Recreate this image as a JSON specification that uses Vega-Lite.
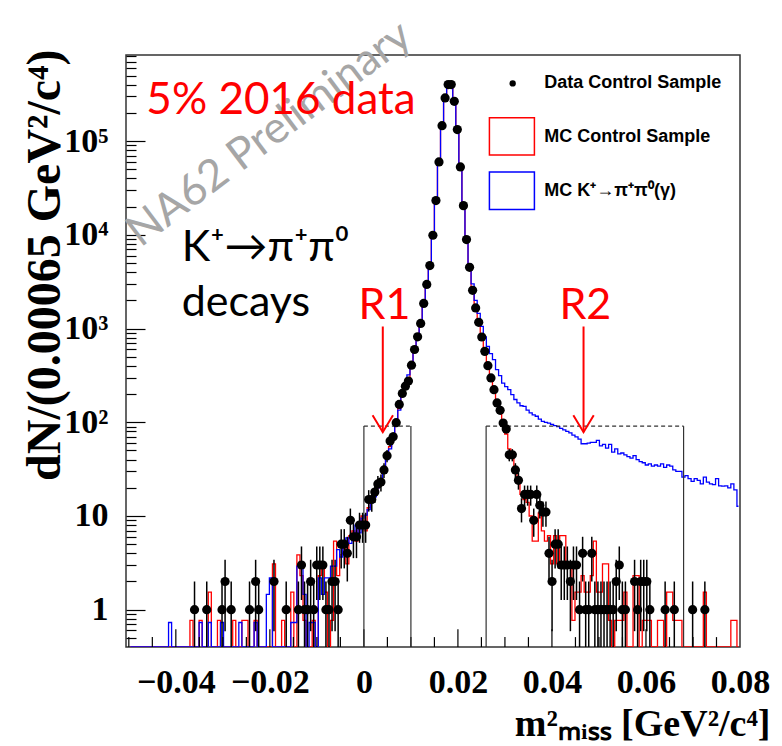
{
"$schema":"https://vega.github.io/schema/vega-lite/v6.json",
"width":614,"height":592,
"autosize":"none",
"padding":{"left":126,"top":55,"right":42,"bottom":99},
"background":"white",
"config":{"view":{"stroke":"#333","strokeWidth":1.5,"fill":"white"},"font":"Liberation Serif"},
"datasets":{
"mc":[
{"m":-0.049675,"r":0,"b":0},{"m":-0.049025,"r":0,"b":0},{"m":-0.048375,"r":0,"b":0},{"m":-0.047725,"r":0,"b":0},{"m":-0.047075,"r":0,"b":0},{"m":-0.046425,"r":0,"b":0},{"m":-0.045775,"r":0,"b":0},{"m":-0.045125,"r":0,"b":0},{"m":-0.044475,"r":0,"b":0},{"m":-0.043825,"r":0,"b":0},
{"m":-0.043175,"r":0,"b":0},{"m":-0.042525,"r":0,"b":0},{"m":-0.041875,"r":0,"b":0},{"m":-0.041225,"r":0,"b":0.73},{"m":-0.040575,"r":0,"b":0},{"m":-0.039925,"r":0,"b":0},{"m":-0.039275,"r":0,"b":0},{"m":-0.038625,"r":0,"b":0},{"m":-0.037975,"r":0,"b":0},{"m":-0.037325,"r":0,"b":0},
{"m":-0.036675,"r":0.77,"b":0},{"m":-0.036025,"r":0,"b":0},{"m":-0.035375,"r":0,"b":0},{"m":-0.034725,"r":0.77,"b":0.73},{"m":-0.034075,"r":0,"b":0},{"m":-0.033425,"r":0,"b":0},{"m":-0.032775,"r":1.54,"b":0.73},{"m":-0.032125,"r":0,"b":0},{"m":-0.031475,"r":0,"b":0},{"m":-0.030825,"r":0.77,"b":0},
{"m":-0.030175,"r":0,"b":0.73},{"m":-0.029525,"r":0,"b":0},{"m":-0.028875,"r":0,"b":0},{"m":-0.028225,"r":0,"b":0},{"m":-0.027575,"r":0.77,"b":0},{"m":-0.026925,"r":0,"b":0},{"m":-0.026275,"r":0,"b":0.73},{"m":-0.025625,"r":0.77,"b":0},{"m":-0.024975,"r":0.77,"b":0},{"m":-0.024325,"r":0,"b":0},
{"m":-0.023675,"r":0,"b":0},{"m":-0.023025,"r":0.77,"b":0.73},{"m":-0.022375,"r":0,"b":0},{"m":-0.021725,"r":0,"b":0},{"m":-0.021075,"r":0,"b":0},{"m":-0.020425,"r":0,"b":1.46},{"m":-0.019775,"r":0,"b":2.19},{"m":-0.019125,"r":3.08,"b":0},{"m":-0.018475,"r":0,"b":0},{"m":-0.017825,"r":0,"b":0},
{"m":-0.017175,"r":0.77,"b":0},{"m":-0.016525,"r":0,"b":0},{"m":-0.015875,"r":0,"b":0},{"m":-0.015225,"r":1.54,"b":0.73},{"m":-0.014575,"r":0,"b":0.73},{"m":-0.013925,"r":3.85,"b":2.92},{"m":-0.013275,"r":2.31,"b":2.92},{"m":-0.012625,"r":0.77,"b":1.46},{"m":-0.011975,"r":0,"b":0},{"m":-0.011325,"r":0,"b":0.73},
{"m":-0.010675,"r":0.77,"b":0.73},{"m":-0.010025,"r":0,"b":0},{"m":-0.009375,"r":2.31,"b":2.19},{"m":-0.008725,"r":3.08,"b":1.46},{"m":-0.008075,"r":1.54,"b":2.19},{"m":-0.007425,"r":0,"b":2.19},{"m":-0.006775,"r":0.77,"b":2.92},{"m":-0.006125,"r":5.39,"b":2.92},{"m":-0.005475,"r":2.31,"b":4.38},{"m":-0.004825,"r":3.85,"b":3.65},
{"m":-0.004175,"r":4.62,"b":5.11},{"m":-0.003525,"r":3.08,"b":5.84},{"m":-0.002875,"r":6.16,"b":5.11},{"m":-0.002225,"r":6.93,"b":5.84},{"m":-0.001575,"r":5.39,"b":8},{"m":-0.000925,"r":7.7,"b":6.6},{"m":-0.000275,"r":10,"b":9.5},{"m":0.000375,"r":6.93,"b":10.2},{"m":0.001025,"r":12.3,"b":11.7},{"m":0.001675,"r":14.6,"b":13.9},
{"m":0.002325,"r":17.7,"b":16},{"m":0.002975,"r":20,"b":20},{"m":0.003625,"r":25,"b":24},{"m":0.004275,"r":30,"b":30},{"m":0.004925,"r":42,"b":40},{"m":0.005575,"r":55,"b":52},{"m":0.006225,"r":72,"b":70},{"m":0.006875,"r":100,"b":95},{"m":0.007525,"r":140,"b":135},{"m":0.008175,"r":195,"b":190},
{"m":0.008825,"r":245,"b":250},{"m":0.009475,"r":300,"b":320},{"m":0.010125,"r":405,"b":420},{"m":0.010775,"r":590,"b":600},{"m":0.011425,"r":830,"b":850},{"m":0.012075,"r":1180,"b":1200},{"m":0.012725,"r":1850,"b":1900},{"m":0.013375,"r":2950,"b":3000},{"m":0.014025,"r":4900,"b":4900},{"m":0.014675,"r":10200,"b":10000},
{"m":0.015325,"r":24000,"b":24000},{"m":0.015975,"r":61000,"b":61000},{"m":0.016625,"r":148000,"b":148000},{"m":0.017275,"r":292000,"b":292000},{"m":0.017925,"r":400000,"b":401000},{"m":0.018575,"r":398000,"b":400000},{"m":0.019225,"r":268000,"b":270000},{"m":0.019875,"r":135000,"b":136000},{"m":0.020525,"r":54000,"b":55000},{"m":0.021175,"r":21000,"b":21500},
{"m":0.021825,"r":9200,"b":9500},{"m":0.022475,"r":4600,"b":4900},{"m":0.023125,"r":2500,"b":3000},{"m":0.023775,"r":1600,"b":2000},{"m":0.024425,"r":1150,"b":1450},{"m":0.025075,"r":790,"b":1055},{"m":0.025725,"r":560,"b":813},{"m":0.026375,"r":400,"b":646},{"m":0.027025,"r":290,"b":540},{"m":0.027675,"r":215,"b":466},
{"m":0.028325,"r":160,"b":364},{"m":0.028975,"r":125,"b":314},{"m":0.029625,"r":95,"b":262},{"m":0.030275,"r":75,"b":240},{"m":0.030925,"r":52,"b":223},{"m":0.031575,"r":45,"b":197},{"m":0.032225,"r":33,"b":175},{"m":0.032875,"r":24,"b":161},{"m":0.033525,"r":17,"b":150},{"m":0.034175,"r":15,"b":148},
{"m":0.034825,"r":14,"b":135},{"m":0.035475,"r":10,"b":126},{"m":0.036125,"r":5.39,"b":120},{"m":0.036775,"r":5.39,"b":116},{"m":0.037425,"r":10.8,"b":108},{"m":0.038075,"r":6.93,"b":102},{"m":0.038725,"r":5.39,"b":100},{"m":0.039375,"r":6.16,"b":98},{"m":0.040025,"r":3.08,"b":95},{"m":0.040675,"r":6.16,"b":92},
{"m":0.041325,"r":3.08,"b":90},{"m":0.041975,"r":6.16,"b":86},{"m":0.042625,"r":6.16,"b":83},{"m":0.043275,"r":3.08,"b":80},{"m":0.043925,"r":3.08,"b":77},{"m":0.044575,"r":0.77,"b":73},{"m":0.045225,"r":1.54,"b":70},{"m":0.045875,"r":1.54,"b":66},{"m":0.046525,"r":2.31,"b":59},{"m":0.047175,"r":1.54,"b":59},
{"m":0.047825,"r":1.54,"b":60},{"m":0.048475,"r":2.31,"b":61},{"m":0.049125,"r":5.39,"b":61},{"m":0.049775,"r":1.54,"b":64},{"m":0.050425,"r":1.54,"b":56},{"m":0.051075,"r":3.08,"b":58},{"m":0.051725,"r":3.08,"b":53},{"m":0.052375,"r":0.77,"b":58},{"m":0.053025,"r":0,"b":48},{"m":0.053675,"r":0.77,"b":52},
{"m":0.054325,"r":0.77,"b":46},{"m":0.054975,"r":0.77,"b":47},{"m":0.055625,"r":1.54,"b":45},{"m":0.056275,"r":0,"b":43},{"m":0.056925,"r":0,"b":41.5},{"m":0.057575,"r":2.31,"b":44},{"m":0.058225,"r":2.31,"b":40},{"m":0.058875,"r":0,"b":38},{"m":0.059525,"r":0.77,"b":37},{"m":0.060175,"r":0.77,"b":35},
{"m":0.060825,"r":0.77,"b":36},{"m":0.061475,"r":0,"b":34},{"m":0.062125,"r":0,"b":35},{"m":0.062775,"r":0.77,"b":34},{"m":0.063425,"r":0.77,"b":36},{"m":0.064075,"r":0,"b":33},{"m":0.064725,"r":1.54,"b":35},{"m":0.065375,"r":1.54,"b":34},{"m":0.066025,"r":0.77,"b":31},{"m":0.066675,"r":0.77,"b":30},
{"m":0.067325,"r":0.77,"b":30},{"m":0.067975,"r":0,"b":26},{"m":0.068625,"r":0,"b":27},{"m":0.069275,"r":0,"b":25},{"m":0.069925,"r":0,"b":23.4},{"m":0.070575,"r":0,"b":25},{"m":0.071225,"r":0,"b":24},{"m":0.071875,"r":0,"b":22},{"m":0.072525,"r":1.54,"b":26},{"m":0.073175,"r":0,"b":23},
{"m":0.073825,"r":0,"b":22},{"m":0.074475,"r":0,"b":21.6},{"m":0.075125,"r":0,"b":25},{"m":0.075775,"r":0,"b":21},{"m":0.076425,"r":0,"b":20.8},{"m":0.077075,"r":0,"b":21},{"m":0.077725,"r":0,"b":20},{"m":0.078375,"r":0.77,"b":22},{"m":0.079025,"r":0.77,"b":19},{"m":0.079675,"r":0,"b":12.7}
],
"data":[
{"m":-0.036025,"n":1,"lo":0,"hi":2},{"m":-0.033425,"n":1,"lo":0,"hi":2},{"m":-0.030175,"n":1,"lo":0,"hi":2},{"m":-0.029525,"n":2,"lo":0.59,"hi":3.41},{"m":-0.028225,"n":1,"lo":0,"hi":2},{"m":-0.024325,"n":1,"lo":0,"hi":2},{"m":-0.023025,"n":2,"lo":0.59,"hi":3.41},{"m":-0.022375,"n":1,"lo":0,"hi":2},{"m":-0.019125,"n":2,"lo":0.59,"hi":3.41},{"m":-0.016525,"n":1,"lo":0,"hi":2},
{"m":-0.013925,"n":1,"lo":0,"hi":2},{"m":-0.013275,"n":3,"lo":1.27,"hi":4.73},{"m":-0.012625,"n":1,"lo":0,"hi":2},{"m":-0.011975,"n":1,"lo":0,"hi":2},{"m":-0.011325,"n":2,"lo":0.59,"hi":3.41},{"m":-0.010675,"n":1,"lo":0,"hi":2},{"m":-0.010025,"n":3,"lo":1.27,"hi":4.73},{"m":-0.009375,"n":3,"lo":1.27,"hi":4.73},{"m":-0.008725,"n":3,"lo":1.27,"hi":4.73},{"m":-0.008075,"n":1,"lo":0,"hi":2},
{"m":-0.007425,"n":1,"lo":0,"hi":2},{"m":-0.006775,"n":2,"lo":0.59,"hi":3.41},{"m":-0.006125,"n":2,"lo":0.59,"hi":3.41},{"m":-0.005475,"n":1,"lo":0,"hi":2},{"m":-0.004825,"n":5,"lo":2.76,"hi":7.24},{"m":-0.004175,"n":5,"lo":2.76,"hi":7.24},{"m":-0.003525,"n":4,"lo":2,"hi":6},{"m":-0.002875,"n":9,"lo":6,"hi":12},{"m":-0.002225,"n":6,"lo":3.55,"hi":8.45},{"m":-0.001575,"n":6,"lo":3.55,"hi":8.45},
{"m":-0.000925,"n":8,"lo":5.17,"hi":10.83},{"m":-0.000275,"n":8,"lo":5.17,"hi":10.83},{"m":0.000375,"n":8,"lo":5.17,"hi":10.83},{"m":0.001025,"n":15,"lo":11.13,"hi":18.87},{"m":0.001675,"n":15,"lo":11.13,"hi":18.87},{"m":0.002325,"n":18,"lo":13.76,"hi":22.24},{"m":0.002975,"n":22,"lo":17.31,"hi":26.69},{"m":0.003625,"n":23,"lo":18.2,"hi":27.8},{"m":0.004275,"n":31,"lo":25.43,"hi":36.57},{"m":0.004925,"n":44,"lo":37.37,"hi":50.63},
{"m":0.005575,"n":63,"lo":55.06,"hi":70.94},{"m":0.006225,"n":70,"lo":61.63,"hi":78.37},{"m":0.006875,"n":99,"lo":89.05,"hi":108.95},{"m":0.007525,"n":155},{"m":0.008175,"n":203},{"m":0.008825,"n":243},{"m":0.009475,"n":275},{"m":0.010125,"n":407},{"m":0.010775,"n":598},{"m":0.011425,"n":817},
{"m":0.012075,"n":1133},{"m":0.012725,"n":1853},{"m":0.013375,"n":2960},{"m":0.014025,"n":4700},{"m":0.014675,"n":9900},{"m":0.015325,"n":23200},{"m":0.015975,"n":60000},{"m":0.016625,"n":146000},{"m":0.017275,"n":289000},{"m":0.017925,"n":401000},
{"m":0.018575,"n":401000},{"m":0.019225,"n":266000},{"m":0.019875,"n":133000},{"m":0.020525,"n":53000},{"m":0.021175,"n":20500},{"m":0.021825,"n":8900},{"m":0.022475,"n":4500},{"m":0.023125,"n":2560},{"m":0.023775,"n":1660},{"m":0.024425,"n":1165},
{"m":0.025075,"n":813},{"m":0.025725,"n":571},{"m":0.026375,"n":402},{"m":0.027025,"n":297},{"m":0.027675,"n":223},{"m":0.028325,"n":161},{"m":0.028975,"n":134},{"m":0.029625,"n":98,"lo":88.1,"hi":107.9},{"m":0.030275,"n":85,"lo":75.78,"hi":94.22},{"m":0.030925,"n":45,"lo":38.29,"hi":51.71},
{"m":0.031575,"n":45,"lo":38.29,"hi":51.71},{"m":0.032225,"n":31,"lo":25.43,"hi":36.57},{"m":0.032875,"n":24,"lo":19.1,"hi":28.9},{"m":0.033525,"n":12,"lo":8.54,"hi":15.46},{"m":0.034175,"n":17,"lo":12.88,"hi":21.12},{"m":0.034825,"n":17,"lo":12.88,"hi":21.12},{"m":0.035475,"n":17,"lo":12.88,"hi":21.12},{"m":0.036125,"n":9,"lo":6,"hi":12},{"m":0.036775,"n":17,"lo":12.88,"hi":21.12},{"m":0.037425,"n":13,"lo":9.39,"hi":16.61},
{"m":0.038075,"n":11,"lo":7.68,"hi":14.32},{"m":0.038725,"n":11,"lo":7.68,"hi":14.32},{"m":0.039375,"n":4,"lo":2,"hi":6},{"m":0.040025,"n":2,"lo":0.59,"hi":3.41},{"m":0.040675,"n":5,"lo":2.76,"hi":7.24},{"m":0.041325,"n":5,"lo":2.76,"hi":7.24},{"m":0.041975,"n":3,"lo":1.27,"hi":4.73},{"m":0.042625,"n":3,"lo":1.27,"hi":4.73},{"m":0.043275,"n":3,"lo":1.27,"hi":4.73},{"m":0.043925,"n":2,"lo":0.59,"hi":3.41},
{"m":0.044575,"n":3,"lo":1.27,"hi":4.73},{"m":0.045225,"n":3,"lo":1.27,"hi":4.73},{"m":0.045875,"n":1,"lo":0,"hi":2},{"m":0.046525,"n":4,"lo":2,"hi":6},{"m":0.047175,"n":1,"lo":0,"hi":2},{"m":0.047825,"n":1,"lo":0,"hi":2},{"m":0.048475,"n":4,"lo":2,"hi":6},{"m":0.049125,"n":1,"lo":0,"hi":2},{"m":0.049775,"n":1,"lo":0,"hi":2},{"m":0.050425,"n":1,"lo":0,"hi":2},
{"m":0.051075,"n":1,"lo":0,"hi":2},{"m":0.051725,"n":1,"lo":0,"hi":2},{"m":0.052375,"n":1,"lo":0,"hi":2},{"m":0.053025,"n":1,"lo":0,"hi":2},{"m":0.053675,"n":2,"lo":0.59,"hi":3.41},{"m":0.054325,"n":3,"lo":1.27,"hi":4.73},{"m":0.054975,"n":1,"lo":0,"hi":2},{"m":0.055625,"n":1,"lo":0,"hi":2},{"m":0.057575,"n":2,"lo":0.59,"hi":3.41},{"m":0.058225,"n":1,"lo":0,"hi":2},
{"m":0.058875,"n":2,"lo":0.59,"hi":3.41},{"m":0.059525,"n":2,"lo":0.59,"hi":3.41},{"m":0.060175,"n":2,"lo":0.59,"hi":3.41},{"m":0.060825,"n":1,"lo":0,"hi":2},{"m":0.064075,"n":1,"lo":0,"hi":2},{"m":0.066025,"n":1,"lo":0,"hi":2},{"m":0.069925,"n":1,"lo":0,"hi":2},{"m":0.072525,"n":1,"lo":0,"hi":2}
],
"regions":[{"region":"R1","lo":0,"hi":0.01},{"region":"R2","lo":0.026,"hi":0.068}],
"xticks":[
{"v":-0.05,"kind":"minor"},{"v":-0.045,"kind":"minor"},{"v":-0.04,"kind":"major"},{"v":-0.035,"kind":"minor"},{"v":-0.03,"kind":"minor"},{"v":-0.025,"kind":"minor"},{"v":-0.02,"kind":"major"},{"v":-0.015,"kind":"minor"},{"v":-0.01,"kind":"minor"},{"v":-0.005,"kind":"minor"},
{"v":0,"kind":"major"},{"v":0.005,"kind":"minor"},{"v":0.01,"kind":"minor"},{"v":0.015,"kind":"minor"},{"v":0.02,"kind":"major"},{"v":0.025,"kind":"minor"},{"v":0.03,"kind":"minor"},{"v":0.035,"kind":"minor"},{"v":0.04,"kind":"major"},{"v":0.045,"kind":"minor"},
{"v":0.05,"kind":"minor"},{"v":0.055,"kind":"minor"},{"v":0.06,"kind":"major"},{"v":0.065,"kind":"minor"},{"v":0.07,"kind":"minor"},{"v":0.075,"kind":"minor"}
]
},
"layer":[
{"data":{"name":"mc"},
 "mark":{"type":"line","interpolate":"step","stroke":"#ff0000","strokeWidth":1.3,"invalid":"show","clip":true},
 "encoding":{
  "x":{"field":"m","type":"quantitative","scale":{"domain":[-0.0506,0.08],"nice":false,"zero":false},
   "axis":{"orient":"bottom","domain":false,"grid":false,"ticks":false,"tickSize":0,"labels":true,
    "values":[-0.04,-0.02,0,0.02,0.04,0.06,0.08],
    "labelExpr":"datum.value==0 ? '0' : format(datum.value,'.2f')",
    "labelFont":"Liberation Serif","labelFontWeight":"bold","labelFontSize":34,"labelColor":"#000","labelPadding":18,
    "labelFlush":false,"labelOverlap":false,"labelBound":false,
    "title":"m²ₘᵢₛₛ [GeV²/c⁴]","titleFont":"Liberation Serif","titleFontWeight":"bold","titleFontSize":38,"titleColor":"#000",
    "titleX":644,"titleY":88,"titleAlign":"right","titleBaseline":"alphabetic","titleAngle":0}},
  "y":{"field":"r","type":"quantitative","scale":{"type":"log","domain":[0.4,830000],"nice":false,"clamp":true},
   "axis":{"orient":"left","domain":false,"grid":false,
    "values":[0.5,0.6,0.7,0.8,0.9,1,2,3,4,5,6,7,8,9,10,20,30,40,50,60,70,80,90,100,200,300,400,500,600,700,800,900,1000,2000,3000,4000,5000,6000,7000,8000,9000,10000,20000,30000,40000,50000,60000,70000,80000,90000,100000,200000,300000,400000,500000,600000,700000,800000],
    "labelExpr":"datum.value==1?'1':datum.value==10?'10':datum.value==100?'10²':datum.value==1000?'10³':datum.value==10000?'10⁴':datum.value==100000?'10⁵':''",
    "tickSize":{"condition":{"test":"indexof([1,10,100,1000,10000,100000],datum.value)>=0","value":-19},"value":-10},
    "tickColor":"#000","tickWidth":1.2,
    "labelFont":"Liberation Serif","labelFontWeight":"bold","labelFontSize":34,"labelColor":"#000","labelPadding":37,
    "labelOverlap":false,"labelBound":false,"labelFlush":false,
    "title":"dN/(0.00065 GeV²/c⁴)","titleFont":"Liberation Serif","titleFontWeight":"bold","titleFontSize":48,"titleColor":"#000",
    "titleX":-81,"titleY":-6,"titleAlign":"right","titleBaseline":"middle","titleAngle":270}}
 }},
{"data":{"name":"mc"},
 "mark":{"type":"line","interpolate":"step","stroke":"#0000ff","strokeWidth":1.3,"invalid":"show","clip":true},
 "encoding":{"x":{"field":"m","type":"quantitative"},"y":{"field":"b","type":"quantitative"}}},
{"data":{"name":"xticks"},
 "transform":[{"filter":"datum.kind=='major'"}],
 "mark":{"type":"rule","stroke":"#000","strokeWidth":1.2},
 "encoding":{"x":{"field":"v","type":"quantitative"},"y":{"datum":0.4,"type":"quantitative"},"y2":{"datum":0.62}}},
{"data":{"name":"xticks"},
 "transform":[{"filter":"datum.kind=='minor'"}],
 "mark":{"type":"rule","stroke":"#000","strokeWidth":1.2},
 "encoding":{"x":{"field":"v","type":"quantitative"},"y":{"datum":0.4,"type":"quantitative"},"y2":{"datum":0.51}}},
{"data":{"name":"regions"},
 "transform":[{"fold":["lo","hi"],"as":["edge","pos"]}],
 "mark":{"type":"rule","stroke":"#333","strokeWidth":1.2},
 "encoding":{"x":{"field":"pos","type":"quantitative"},"y":{"datum":0.4,"type":"quantitative"},"y2":{"datum":91}}},
{"data":{"name":"regions"},
 "mark":{"type":"rule","stroke":"#333","strokeWidth":1.2,"strokeDash":[4,3]},
 "encoding":{"x":{"field":"lo","type":"quantitative"},"x2":{"field":"hi"},"y":{"datum":91,"type":"quantitative"}}},
{"data":{"name":"data"},
 "transform":[{"filter":"isValid(datum.hi)"}],
 "mark":{"type":"rule","stroke":"#000","strokeWidth":1.5,"invalid":"show","clip":true},
 "encoding":{"x":{"field":"m","type":"quantitative"},"y":{"field":"lo","type":"quantitative"},"y2":{"field":"hi"}}},
{"data":{"name":"data"},
 "mark":{"type":"point","shape":"circle","filled":true,"fill":"#000","stroke":"#000","strokeWidth":0,"size":85,"opacity":1},
 "encoding":{"x":{"field":"m","type":"quantitative"},"y":{"field":"n","type":"quantitative"}}},
{"data":{"values":[{}]},
 "mark":{"type":"text","text":"NA62 Preliminary","font":"Lato","fontSize":44,"fill":"#a6a6a6","angle":-37,"align":"center","baseline":"middle"},
 "encoding":{"x":{"datum":-0.02006,"type":"quantitative"},"y":{"datum":117900,"type":"quantitative"}}},
{"data":{"values":[{}]},
 "mark":{"type":"text","text":"5% 2016 data","font":"Lato","fontSize":44,"fill":"#ff0000","align":"left","baseline":"alphabetic"},
 "encoding":{"x":{"datum":-0.04627,"type":"quantitative"},"y":{"datum":192700,"type":"quantitative"}}},
{"data":{"values":[{}]},
 "mark":{"type":"text","text":"K⁺→π⁺π⁰","font":"Lato","fontSize":43,"fill":"#000","align":"left","baseline":"alphabetic"},
 "encoding":{"x":{"datum":-0.03876,"type":"quantitative"},"y":{"datum":5200,"type":"quantitative"}}},
{"data":{"values":[{}]},
 "mark":{"type":"text","text":"decays","font":"Lato","fontSize":43,"fill":"#000","align":"left","baseline":"alphabetic"},
 "encoding":{"x":{"datum":-0.03876,"type":"quantitative"},"y":{"datum":1346,"type":"quantitative"}}},
{"data":{"values":[{}]},
 "mark":{"type":"text","text":"R1","font":"Lato","fontSize":43,"fill":"#ff0000","align":"center","baseline":"alphabetic"},
 "encoding":{"x":{"datum":0.00438,"type":"quantitative"},"y":{"datum":1250,"type":"quantitative"}}},
{"data":{"values":[{}]},
 "mark":{"type":"text","text":"R2","font":"Lato","fontSize":43,"fill":"#ff0000","align":"center","baseline":"alphabetic"},
 "encoding":{"x":{"datum":0.04711,"type":"quantitative"},"y":{"datum":1250,"type":"quantitative"}}},
{"data":{"values":[{"x":0.00402},{"x":0.04672}]},
 "mark":{"type":"rule","stroke":"#ff0000","strokeWidth":2},
 "encoding":{"x":{"field":"x","type":"quantitative"},"y":{"datum":1052,"type":"quantitative"},"y2":{"datum":78.4}}},
{"data":{"values":[{"x":0.00402},{"x":0.04672}]},
 "mark":{"type":"point","shape":"M-0.6,-1L0,0L0.6,-1","size":1156,"filled":false,"stroke":"#ff0000","strokeWidth":2,"opacity":1},
 "encoding":{"x":{"field":"x","type":"quantitative"},"y":{"datum":78.4,"type":"quantitative"}}},
{"data":{"values":[{}]},
 "mark":{"type":"point","shape":"circle","filled":true,"fill":"#000","size":40,"opacity":1},
 "encoding":{"x":{"datum":0.03165,"type":"quantitative"},"y":{"datum":413000,"type":"quantitative"}}},
{"data":{"values":[{}]},
 "mark":{"type":"rect","fill":"white","fillOpacity":0,"stroke":"#ff0000","strokeWidth":1.5},
 "encoding":{"x":{"datum":0.0267,"type":"quantitative"},"x2":{"datum":0.03627},"y":{"datum":177800,"type":"quantitative"},"y2":{"datum":70950}}},
{"data":{"values":[{}]},
 "mark":{"type":"rect","fill":"white","fillOpacity":0,"stroke":"#0000ff","strokeWidth":1.5},
 "encoding":{"x":{"datum":0.0267,"type":"quantitative"},"x2":{"datum":0.03627},"y":{"datum":46700,"type":"quantitative"},"y2":{"datum":18680}}},
{"data":{"values":[{}]},
 "mark":{"type":"text","text":"Data Control Sample","font":"Liberation Sans","fontWeight":"bold","fontSize":18,"fill":"#000","align":"left","baseline":"middle"},
 "encoding":{"x":{"datum":0.03838,"type":"quantitative"},"y":{"datum":413000,"type":"quantitative"}}},
{"data":{"values":[{}]},
 "mark":{"type":"text","text":"MC Control Sample","font":"Liberation Sans","fontWeight":"bold","fontSize":18,"fill":"#000","align":"left","baseline":"middle"},
 "encoding":{"x":{"datum":0.03838,"type":"quantitative"},"y":{"datum":111400,"type":"quantitative"}}},
{"data":{"values":[{}]},
 "mark":{"type":"text","text":"MC K⁺→π⁺π⁰(γ)","font":"Liberation Sans","fontWeight":"bold","fontSize":18,"fill":"#000","align":"left","baseline":"middle"},
 "encoding":{"x":{"datum":0.03838,"type":"quantitative"},"y":{"datum":29250,"type":"quantitative"}}}
]
}
